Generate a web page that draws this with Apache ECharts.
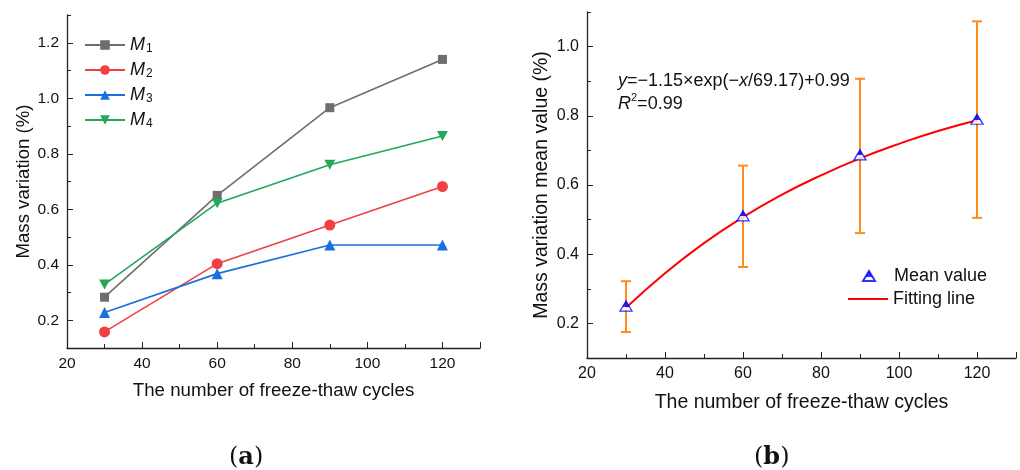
<!DOCTYPE html>
<html>
<head>
<meta charset="utf-8">
<script src="https://cdn.jsdelivr.net/npm/echarts@6/dist/echarts.min.js"></script>
<style>html,body{margin:0;padding:0;background:#fff}#c{width:1020px;height:470px}</style>
</head>
<body>
<div id="c"></div>
<script>
// ---- data (a) ----
const cycles = [30, 60, 90, 120];
const seriesNames = ['M1', 'M2', 'M3', 'M4'];
const M1 = [0.283, 0.650, 0.966, 1.140];
const M2 = [0.158, 0.404, 0.543, 0.682];
const M3 = [0.228, 0.368, 0.471, 0.471];
const M4 = [0.329, 0.622, 0.760, 0.864];
const yTicksA = [0.2, 0.4, 0.6, 0.8, 1.0, 1.2];
const yMinorA = [0.1, 0.3, 0.5, 0.7, 0.9, 1.1, 1.3];
// ---- data (b) ----
const meanValues = [0.250, 0.511, 0.687, 0.790];
const errLow = [0.175, 0.363, 0.461, 0.505];
const errHigh = [0.322, 0.656, 0.907, 1.073];
const fitX = [30, 40, 50, 60, 70, 80, 90, 100, 110, 120];
const fitY = [0.245, 0.345, 0.432, 0.507, 0.572, 0.628, 0.677, 0.719, 0.756, 0.787];
const yTicksB = [0.2, 0.4, 0.6, 0.8, 1.0];
const yMinorB = [0.1, 0.3, 0.5, 0.7, 0.9, 1.1];
const xTicks = [20, 40, 60, 80, 100, 120];

const FONT = 'Liberation Sans, Arial, sans-serif';
const colors = ['#6e6e6e', '#f14040', '#1a6fdf', '#22a85c'];
const symbols = ['rect', 'circle', 'triangle', 'path://M0,0 L10,0 L5,9 Z'];
const symbolSizes = [9, 11, 11, [11, 10]];
const AX = '#222';

function pairs(xs, ys) { return xs.map((x, i) => [x, ys[i]]); }

function xAxisCfg(gridIndex, gap, nameSize, labelSize) {
  return {
    gridIndex, type: 'value', min: 20, max: 130, interval: 20,
    name: 'The number of freeze-thaw cycles', nameLocation: 'middle', nameGap: gap,
    nameTextStyle: { fontFamily: FONT, fontSize: nameSize, color: '#111' },
    axisLine: { onZero: false, lineStyle: { color: AX, width: 1.3 } },
    axisTick: { inside: true, length: 6, lineStyle: { color: AX } },
    minorTick: { show: true, splitNumber: 2, length: 4, lineStyle: { color: AX } },
    axisLabel: { fontFamily: FONT, fontSize: labelSize, color: '#111', margin: 8,
      customValues: xTicks },
    splitLine: { show: false }
  };
}
function yAxisCfg(gridIndex, name, min, max, gap, majors, nameSize, labelSize) {
  return {
    gridIndex, type: 'value', min, max, interval: 0.1,
    name, nameLocation: 'middle', nameGap: gap,
    nameTextStyle: { fontFamily: FONT, fontSize: nameSize, color: '#111' },
    axisLine: { onZero: false, lineStyle: { color: AX, width: 1.3 } },
    axisTick: { inside: true, length: 6, lineStyle: { color: AX }, customValues: majors },
    axisLabel: { fontFamily: FONT, fontSize: labelSize, color: '#111', margin: 8,
      customValues: majors, formatter: v => v.toFixed(1) },
    splitLine: { show: false }
  };
}
function yMinorCfg(gridIndex, min, max, minors) {
  return {
    gridIndex, type: 'value', min, max, interval: 0.1, position: 'left',
    axisLine: { show: false, onZero: false },
    axisTick: { inside: true, length: 4, lineStyle: { color: AX }, customValues: minors },
    axisLabel: { show: false },
    splitLine: { show: false }
  };
}

const allM = [M1, M2, M3, M4];
const seriesA = allM.map((d, i) => ({
  name: seriesNames[i], type: 'line', xAxisIndex: 0, yAxisIndex: 0,
  data: pairs(cycles, d), symbol: symbols[i], symbolSize: symbolSizes[i],
  lineStyle: { color: colors[i], width: 1.6 }, itemStyle: { color: colors[i] },
  showAllSymbol: true, z: 3 + i
}));

const triFill = new echarts.graphic.LinearGradient(0, 0, 0, 1, [
  { offset: 0, color: '#0000ff' }, { offset: 0.55, color: '#0000ff' },
  { offset: 0.55, color: '#ffffff' }, { offset: 1, color: '#ffffff' }]);

const errData = cycles.map((x, i) => [x, errLow[i], errHigh[i]]);

const option = {
  animation: false,
  backgroundColor: '#fff',
  grid: [
    { left: 67, top: 15, width: 413, height: 333 },
    { left: 587, top: 12, width: 429, height: 346 }
  ],
  xAxis: [xAxisCfg(0, 33, 18.7, 15.5), xAxisCfg(1, 35, 19.5, 16)],
  yAxis: [
    yAxisCfg(0, 'Mass variation (%)', 0.1, 1.3, 32, yTicksA, 18.6, 15.5),
    yAxisCfg(1, 'Mass variation mean value (%)', 0.1, 1.1, 35, yTicksB, 19.5, 16),
    yMinorCfg(0, 0.1, 1.3, yMinorA),
    yMinorCfg(1, 0.1, 1.1, yMinorB)
  ],
  legend: [
    {
      data: seriesNames, orient: 'vertical', left: 79, top: 30, itemWidth: 40, itemHeight: 12, itemGap: 5,
      formatter: n => '{m|M}{s|' + n.slice(1) + '}',
      textStyle: { rich: {
        m: { fontFamily: FONT, fontSize: 18, fontStyle: 'italic', color: '#111', lineHeight: 20 },
        s: { fontFamily: FONT, fontSize: 12, color: '#111', lineHeight: 12, verticalAlign: 'bottom', padding: [8, 0, 0, 1] }
      } }
    },
    {
      data: ['Mean value'], orient: 'vertical', left: 857, top: 262, itemWidth: 12, itemHeight: 10,
      textStyle: { fontFamily: FONT, fontSize: 18, color: '#111', padding: [0, 0, 0, 14] }
    },
    {
      data: [{ name: 'Fitting line', icon: 'rect' }], orient: 'vertical', left: 843, top: 285, itemWidth: 40, itemHeight: 2,
      textStyle: { fontFamily: FONT, fontSize: 18, color: '#111' }
    }
  ],
  series: seriesA.concat([
    {
      name: 'Error', type: 'custom', xAxisIndex: 1, yAxisIndex: 1, data: errData, z: 2,
      renderItem: function (params, api) {
        const x = api.value(0);
        const lo = api.coord([x, api.value(1)]);
        const hi = api.coord([x, api.value(2)]);
        const hw = 5;
        const st = { stroke: '#ff8c1a', lineWidth: 2 };
        return { type: 'group', children: [
          { type: 'line', shape: { x1: lo[0], y1: lo[1], x2: hi[0], y2: hi[1] }, style: st },
          { type: 'line', shape: { x1: lo[0] - hw, y1: lo[1], x2: lo[0] + hw, y2: lo[1] }, style: st },
          { type: 'line', shape: { x1: hi[0] - hw, y1: hi[1], x2: hi[0] + hw, y2: hi[1] }, style: st }
        ] };
      }
    },
    {
      name: 'Fitting line', type: 'line', xAxisIndex: 1, yAxisIndex: 1, data: pairs(fitX, fitY),
      smooth: true, showSymbol: false, symbol: 'none', lineStyle: { color: '#ff0000', width: 2 },
      itemStyle: { color: '#ff0000' }, z: 3
    },
    {
      name: 'Mean value', type: 'scatter', xAxisIndex: 1, yAxisIndex: 1, data: pairs(cycles, meanValues),
      symbol: 'triangle', symbolSize: [12, 10],
      itemStyle: { color: triFill, borderColor: '#0000ff', borderWidth: 1.3 }, z: 5
    }
  ]),
  graphic: [
    { type: 'text', left: 618, top: 72, style: {
      text: '{i|y}{n|=−1.15×exp(−}{i|x}{n|/69.17)+0.99}\n{i|R}{sup|2}{n|=0.99}',
      rich: {
        i: { fontFamily: FONT, fontSize: 18, fontStyle: 'italic', fill: '#111', lineHeight: 23 },
        n: { fontFamily: FONT, fontSize: 18, fill: '#111', lineHeight: 23 },
        sup: { fontFamily: FONT, fontSize: 11, fill: '#111', verticalAlign: 'top', padding: [0, 0, 8, 0], lineHeight: 23 }
      } } },
    { type: 'text', left: 229, top: 446, style: {
      text: '({b|a})', font: '24px "DejaVu Serif", serif', fill: '#111',
      rich: { b: { fontFamily: 'DejaVu Serif', fontSize: 24, fontWeight: 'bold', fill: '#111' } } } },
    { type: 'text', left: 754, top: 446, style: {
      text: '({b|b})', font: '24px "DejaVu Serif", serif', fill: '#111',
      rich: { b: { fontFamily: 'DejaVu Serif', fontSize: 24, fontWeight: 'bold', fill: '#111' } } } }
  ]
};

const chart = echarts.init(document.getElementById('c'), null, { renderer: 'canvas' });
chart.setOption(option);
</script>
</body>
</html>
